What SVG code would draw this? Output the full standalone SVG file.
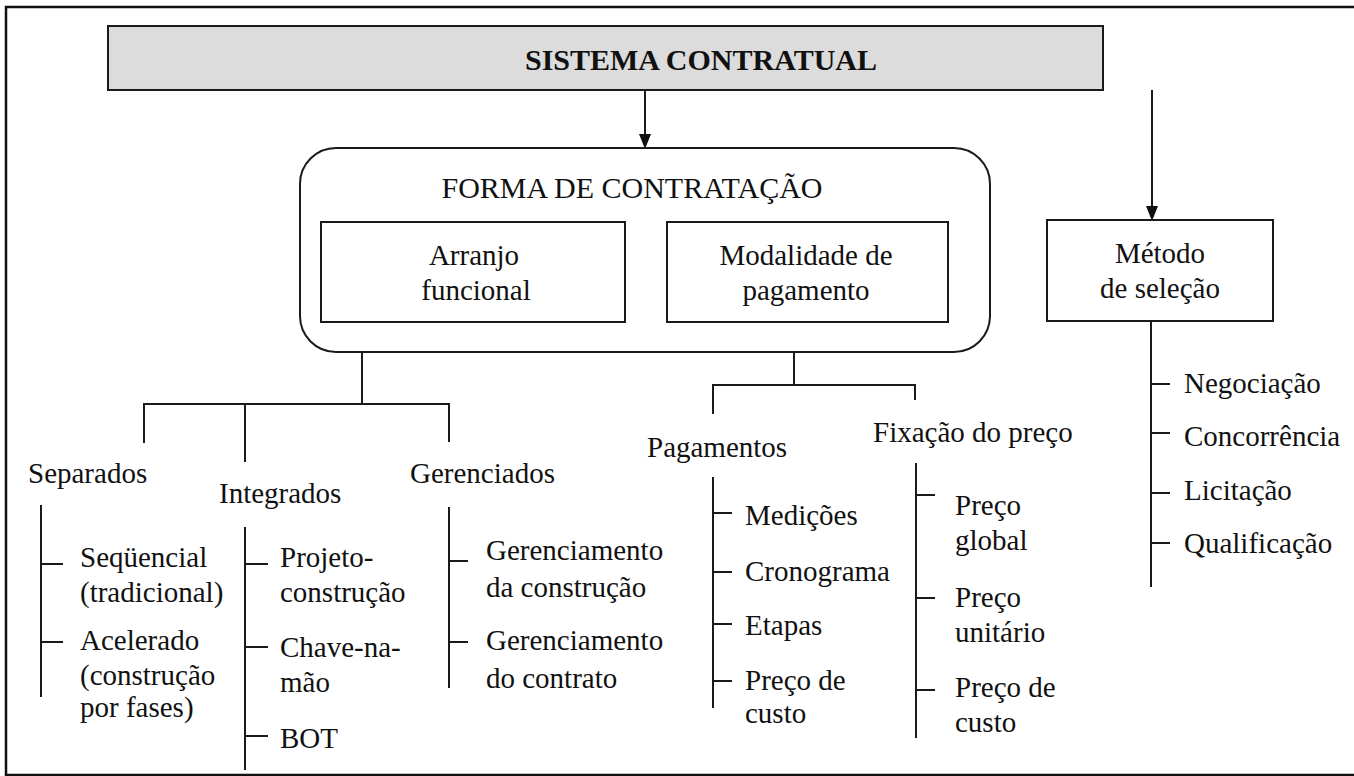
<svg xmlns="http://www.w3.org/2000/svg" width="1354" height="776" viewBox="0 0 1354 776" font-family="'Liberation Serif', 'Times New Roman', serif">
<defs>
<style>
.ln{stroke:#1a1a1a;stroke-width:2;fill:none}
.box{fill:#fff;stroke:#1a1a1a;stroke-width:2}
.m{text-anchor:middle}
text{font-family:'Liberation Serif','Times New Roman',serif;font-size:29px;fill:#111}
.b{font-weight:bold;font-size:30px}
.h{font-size:30px}
</style>
</defs>
<rect width="1354" height="776" fill="#fff"/>
<rect x="6" y="7" width="1360" height="768" fill="none" stroke="#111" stroke-width="2.5"/>

<g id="connectors" class="ln">
<line x1="645" y1="90" x2="645" y2="136"/>
<line x1="1152" y1="90" x2="1152" y2="208"/>
<path d="M362,322 V404 M144,443 V404 H449 V442 M245,404 V462"/>
<path d="M794,322 V385 M713,414 V385 H915 V400"/>
<path d="M41,505 V697 M41,564 H63 M41,642 H63"/>
<path d="M245,527 V770 M245,564 H268 M245,647 H268 M245,736 H268"/>
<path d="M449,507 V688 M449,561 H468 M449,642 H468"/>
<path d="M713,477 V708 M713,513 H732 M713,572 H732 M713,624 H732 M713,681 H732"/>
<path d="M916,463 V738 M916,495 H935 M916,598 H935 M916,690 H935"/>
<path d="M1151,321 V587 M1151,384 H1170 M1151,433 H1170 M1151,493 H1170 M1151,543 H1170"/>
<path d="M639,134 L651,134 L645,149 Z" fill="#111" stroke="none"/>
<path d="M1146,206 L1158,206 L1152,221 Z" fill="#111" stroke="none"/>
</g>

<g id="sistema">
<rect x="108" y="26" width="995" height="64" fill="#dcdcdc" stroke="#1a1a1a" stroke-width="2"/>
<text class="m b" x="701" y="70">SISTEMA CONTRATUAL</text>
</g>
<g id="forma">
<rect x="300" y="148" width="690" height="204" rx="36" class="box"/>
<text class="m h" x="632" y="198">FORMA DE CONTRATAÇÃO</text>
</g>
<g id="arranjo">
<rect x="321" y="222" width="304" height="100" class="box"/>
<text class="m" x="474" y="265">Arranjo</text>
<text class="m" x="476" y="300">funcional</text>
</g>
<g id="modalidade">
<rect x="667" y="222" width="281" height="100" class="box"/>
<text class="m" x="806" y="265">Modalidade de</text>
<text class="m" x="806" y="300">pagamento</text>
</g>
<g id="metodo">
<rect x="1047" y="220" width="226" height="101" class="box"/>
<text class="m" x="1160" y="263">Método</text>
<text class="m" x="1160" y="298">de seleção</text>
</g>

<g id="separados">
<text x="28" y="483">Separados</text>
<text x="80" y="567">Seqüencial</text>
<text x="80" y="602">(tradicional)</text>
<text x="80" y="650">Acelerado</text>
<text x="80" y="685">(construção</text>
<text x="80" y="717">por fases)</text>
</g>
<g id="integrados">
<text x="219" y="503">Integrados</text>
<text x="280" y="567">Projeto-</text>
<text x="280" y="602">construção</text>
<text x="280" y="657">Chave-na-</text>
<text x="280" y="692">mão</text>
<text x="280" y="748">BOT</text>
</g>
<g id="gerenciados">
<text x="410" y="483">Gerenciados</text>
<text x="486" y="560">Gerenciamento</text>
<text x="486" y="597">da construção</text>
<text x="486" y="650">Gerenciamento</text>
<text x="486" y="688">do contrato</text>
</g>
<g id="pagamentos">
<text x="647" y="457">Pagamentos</text>
<text x="745" y="525">Medições</text>
<text x="745" y="581">Cronograma</text>
<text x="745" y="635">Etapas</text>
<text x="745" y="690">Preço de</text>
<text x="745" y="723">custo</text>
</g>
<g id="fixacao">
<text x="873" y="442">Fixação do preço</text>
<text x="955" y="515">Preço</text>
<text x="955" y="550">global</text>
<text x="955" y="607">Preço</text>
<text x="955" y="642">unitário</text>
<text x="955" y="697">Preço de</text>
<text x="955" y="732">custo</text>
</g>
<g id="selecao">
<text x="1184" y="393">Negociação</text>
<text x="1184" y="446">Concorrência</text>
<text x="1184" y="500">Licitação</text>
<text x="1184" y="553">Qualificação</text>
</g>
</svg>
